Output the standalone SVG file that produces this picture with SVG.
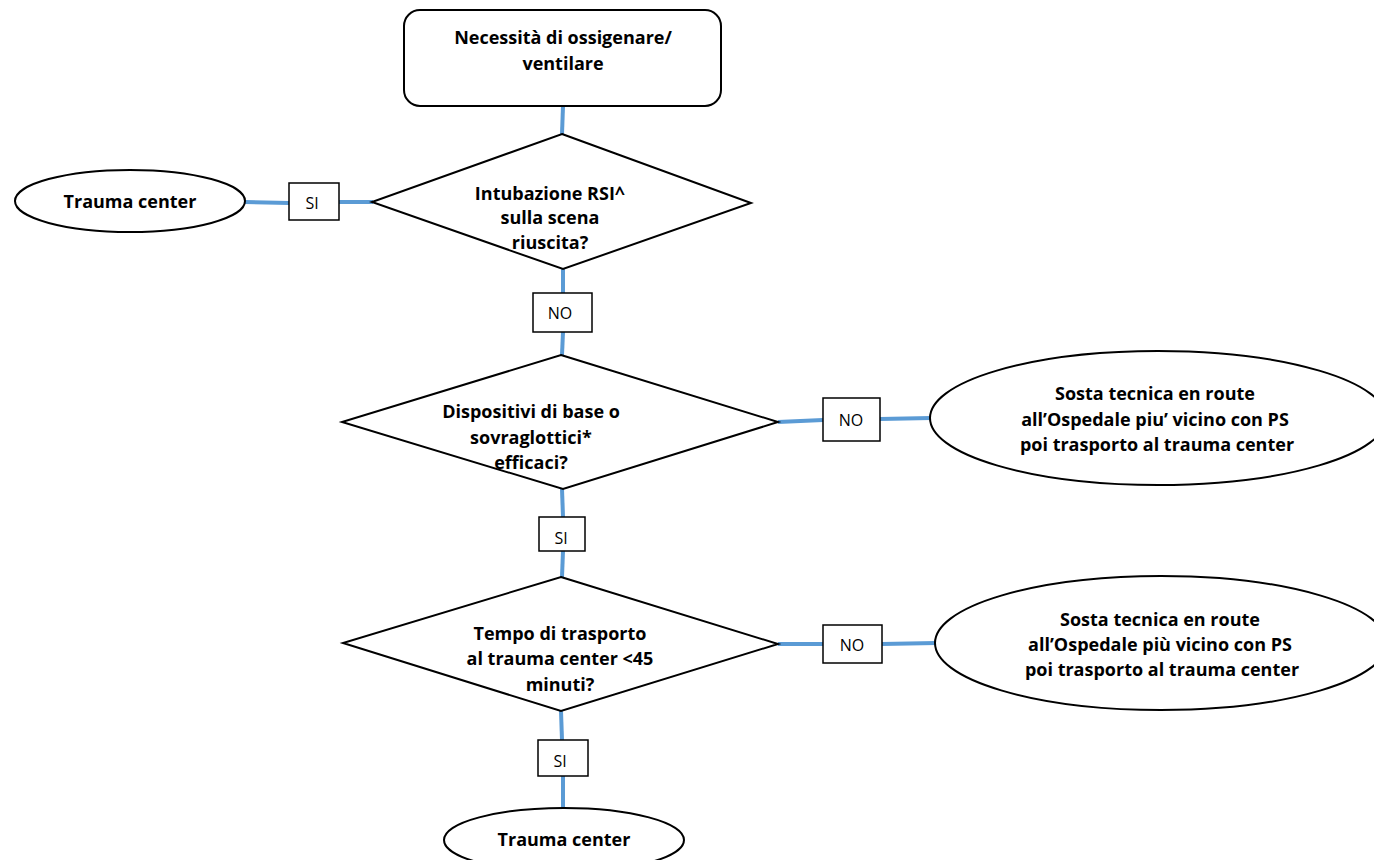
<svg xmlns="http://www.w3.org/2000/svg" width="1374" height="860" viewBox="0 0 1374 860">
<style>
.shape{fill:#fff;stroke:#000;stroke-width:2}
.lbl{fill:#fff;stroke:#000;stroke-width:1.5}
.conn{stroke:#5b9bd5;stroke-width:4;fill:none}
.t{font-family:"Open Sans",Lato,sans-serif;font-weight:bold;font-size:18px;fill:#000;text-anchor:middle}
.s{font-family:"Open Sans",Lato,sans-serif;font-size:16px;fill:#000;text-anchor:middle}
</style>
<rect width="1374" height="860" fill="#fff"/>
<g id="connectors">
<line class="conn" x1="563" y1="106" x2="562" y2="134"/>
<line class="conn" x1="245" y1="202" x2="289" y2="203"/>
<line class="conn" x1="339" y1="202" x2="373" y2="202"/>
<line class="conn" x1="563" y1="269" x2="563" y2="293"/>
<line class="conn" x1="563" y1="332" x2="562" y2="355"/>
<line class="conn" x1="778" y1="422" x2="823" y2="420"/>
<line class="conn" x1="880" y1="419" x2="931" y2="418"/>
<line class="conn" x1="562" y1="489" x2="563" y2="517"/>
<line class="conn" x1="563" y1="551" x2="562" y2="577"/>
<line class="conn" x1="778" y1="644" x2="823" y2="644"/>
<line class="conn" x1="882" y1="644" x2="936" y2="643"/>
<line class="conn" x1="561" y1="711" x2="562" y2="740"/>
<line class="conn" x1="563" y1="776" x2="563" y2="809"/>
</g>
<g id="start">
<rect class="shape" x="404" y="10" width="317" height="96" rx="16"/>
<text class="t" x="563" y="44">Necessità di ossigenare/</text>
<text class="t" x="563" y="70">ventilare</text>
</g>
<g id="d1">
<polygon class="shape" points="562,134 751,203 563,269 372,202"/>
<text class="t" x="550" y="200">Intubazione RSI^</text>
<text class="t" x="550" y="224">sulla scena</text>
<text class="t" x="550" y="249">riuscita?</text>
</g>
<g id="tc1">
<ellipse class="shape" cx="130" cy="201" rx="115" ry="31"/>
<text class="t" x="130" y="208">Trauma center</text>
</g>
<g id="si1">
<rect class="lbl" x="289" y="183" width="50" height="37"/>
<text class="s" x="312" y="209">SI</text>
</g>
<g id="no1">
<rect class="lbl" x="533" y="293" width="59" height="39"/>
<text class="s" x="560" y="319">NO</text>
</g>
<g id="d2">
<polygon class="shape" points="561,355 778,422 563,489 342,422"/>
<text class="t" x="531" y="418">Dispositivi di base o</text>
<text class="t" x="531" y="444">sovraglottici*</text>
<text class="t" x="531" y="469">efficaci?</text>
</g>
<g id="no2">
<rect class="lbl" x="823" y="398" width="57" height="43"/>
<text class="s" x="851" y="426">NO</text>
</g>
<g id="sosta1">
<ellipse class="shape" cx="1158" cy="418" rx="228" ry="67"/>
<text class="t" x="1155" y="400">Sosta tecnica en route</text>
<text class="t" x="1155" y="426">all’Ospedale piu’ vicino con PS</text>
<text class="t" x="1157" y="451">poi trasporto al trauma center</text>
</g>
<g id="si2">
<rect class="lbl" x="539" y="517" width="46" height="34"/>
<text class="s" x="561" y="544">SI</text>
</g>
<g id="d3">
<polygon class="shape" points="561,577 778,644 561,711 343,643"/>
<text class="t" x="560" y="640">Tempo di trasporto</text>
<text class="t" x="560" y="665">al trauma center &lt;45</text>
<text class="t" x="560" y="691">minuti?</text>
</g>
<g id="no3">
<rect class="lbl" x="823" y="625" width="59" height="38"/>
<text class="s" x="852" y="651">NO</text>
</g>
<g id="sosta2">
<ellipse class="shape" cx="1161" cy="643" rx="226" ry="67"/>
<text class="t" x="1160" y="626">Sosta tecnica en route</text>
<text class="t" x="1160" y="651">all’Ospedale più vicino con PS</text>
<text class="t" x="1162" y="676">poi trasporto al trauma center</text>
</g>
<g id="si3">
<rect class="lbl" x="538" y="740" width="50" height="36"/>
<text class="s" x="560" y="767">SI</text>
</g>
<g id="tc2">
<ellipse class="shape" cx="564" cy="840" rx="120" ry="32"/>
<text class="t" x="564" y="846">Trauma center</text>
</g>
</svg>
